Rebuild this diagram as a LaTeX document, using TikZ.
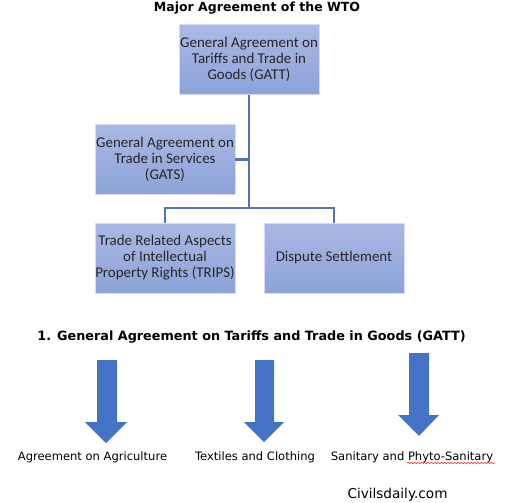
\documentclass[tikz,border=0pt]{standalone}
\usepackage{fontspec}
\usetikzlibrary{decorations.pathmorphing}
\setmainfont{Carlito}
\newfontfamily\verd{DejaVu Sans}
\begin{document}
\begin{tikzpicture}[x=0.75pt,y=-0.75pt,
  box/.style={draw=white!85!blue, line width=0.6pt, top color=boxtop, bottom color=boxbot,
    minimum width=140*0.75pt, minimum height=70*0.75pt, inner sep=0pt, align=center,
    font=\fontsize{11.2pt}{12pt}\selectfont, text=black!85},
  conn/.style={draw=linec, line width=1.6pt},
  bigarrow/.style={fill=arrowc, draw=none},
  label/.style={font=\verd\fontsize{8.65pt}{10pt}\selectfont, anchor=center, inner sep=0pt},
  head/.style={font=\verd\bfseries\fontsize{9.4pt}{11pt}\selectfont, anchor=center, inner sep=0pt}]
\definecolor{boxtop}{RGB}{170,185,228}
\definecolor{boxbot}{RGB}{140,162,216}
\definecolor{linec}{RGB}{84,114,180}
\definecolor{arrowc}{RGB}{68,114,196}
\useasboundingbox (0,0) rectangle (507,503);
\fill[white] (0,0) rectangle (507,503);

\node[head] (title) at (257,8) {Major Agreement of the WTO};

\node[box] (gatt) at (249,59.5) {General Agreement on\\Tariffs and Trade in\\Goods (GATT)};
\node[box] (gats) at (165,159.5) {General Agreement on\\Trade in Services\\(GATS)};
\node[box] (trips) at (165,258) {Trade Related Aspects\\of Intellectual\\Property Rights (TRIPS)};
\node[box] (disp) at (334,258) {Dispute Settlement};

\coordinate (j) at (249,208);
\coordinate (jl) at (165,208);
\coordinate (jr) at (334,208);
\draw[conn] (gatt.south) -- (j);
\draw[conn] (gats.east) -- (gats.east -| gatt.south);
\draw[conn] (trips.north) -- (jl) -- (jr) -- (disp.north);

\node[head, font=\verd\bfseries\fontsize{9.6pt}{11pt}\selectfont] (sub) at (251.5,337) {1. General Agreement on Tariffs and Trade in Goods (GATT)};

\fill[bigarrow] (97,360) -- (117,360) -- (117,422) -- (127,422) -- (106,443) -- (85,422) -- (97,422) -- cycle;
\fill[bigarrow] (255,360) -- (274,360) -- (274,422) -- (284,422) -- (264,442) -- (244,422) -- (255,422) -- cycle;
\fill[bigarrow] (409,353) -- (429,353) -- (429,415) -- (439,415) -- (419,436) -- (398,415) -- (409,415) -- cycle;

\node[label] (l1) at (92.5,457) {Agreement on Agriculture};
\node[label] (l2) at (255,457) {Textiles and Clothing};
\node[label] (l3) at (412,457) {Sanitary and Phyto-Sanitary};
\coordinate (sq1) at (407,463);
\coordinate (sq2) at (495,463);
\draw[red!80, line width=0.5pt, decorate, decoration={snake, amplitude=0.5pt, segment length=2.5pt}] (sq1) -- (sq2);

\node[label, font=\verd\fontsize{10.2pt}{11pt}\selectfont] (web) at (397.5,495) {Civilsdaily.com};
\end{tikzpicture}
\end{document}
